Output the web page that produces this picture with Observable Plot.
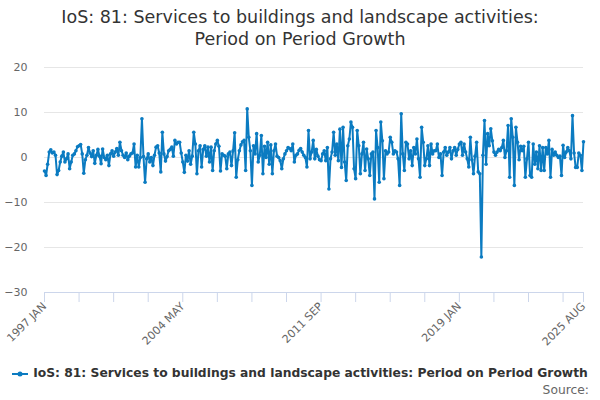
<!DOCTYPE html>
<html>
<head>
<meta charset="utf-8">
<script src="https://cdn.jsdelivr.net/npm/d3@7"></script>
<script src="https://cdn.jsdelivr.net/npm/@observablehq/plot@0.6"></script>
<style>
  html, body { margin: 0; padding: 0; background: #ffffff; }
  body { width: 600px; height: 400px; overflow: hidden; font-family: "DejaVu Sans", sans-serif; }
  #title { box-sizing: border-box; height: 50px; padding-top: 6px; text-align: center; font-size: 17.5px; line-height: 22px; color: #333333; }
  #chart { height: 310px; }
  #legend { position: absolute; top: 366px; left: 0; width: 600px; text-align: center; font-size: 12.3px; font-weight: bold; color: #333333; white-space: nowrap; }
  #legend svg { vertical-align: middle; margin-right: 5px; }
  #source { position: absolute; top: 383px; right: 11px; font-size: 12.3px; color: #666666; }
</style>
</head>
<body>
<div id="title"></div>
<div id="chart"></div>
<div id="legend"></div>
<div id="source"></div>
<script>
const titleLines = ["IoS: 81: Services to buildings and landscape activities:", "Period on Period Growth"];
const seriesName = "IoS: 81: Services to buildings and landscape activities: Period on Period Growth";
const sourceText = "Source:";
const seriesColor = "#0b7bc1";

// Monthly period-on-period growth, 1997 JAN .. 2025 AUG (344 months)
const values = [
  -3.0, -4.0, -1.5, 1.2, 1.7, 1.0, 1.2, 0.5, -3.8, -2.9, -1.0, 0.3,
  1.2, -1.0, -0.3, 0.8, -2.5, -1.0, 0.5, 0.8, 1.5, 2.4, 2.6, 2.9,
  0.8, -3.5, -0.5, 0.5, 2.2, 1.0, 0.2, 1.5, -1.3, 0.5, 1.8, 0.3,
  -1.4, 1.9, 0.0, -0.5, 0.5, -1.8, 0.8, 1.5, 0.3, 1.2, 2.0, 0.5,
  3.4, 1.5, 0.5, 0.0, 1.0, -0.5, 0.3, 0.8, 1.0, 3.0, -2.1, 0.5,
  -2.1, 0.0, 8.6, 0.2, -5.5, -0.3, 0.8, -1.0, 0.0, -1.8, 0.5, 2.3,
  2.6, 1.0, -3.2, 5.6, 0.8, -0.8, 0.2, 1.5, 1.8, 2.3, 0.3, 3.8,
  3.0, 3.4, 3.4, 1.0, -1.0, -3.3, 0.5, -0.8, 1.5, -1.5, 0.3, 5.6,
  3.0, -3.6, 1.5, 2.6, -2.1, 1.8, 2.6, 0.3, 2.3, -1.0, 2.3, -2.9,
  1.5, 3.0, 3.8, 2.5, -3.0, 0.8, 0.5, 0.3, -2.5, 0.8, 1.2, -1.8,
  1.5, 5.5, -4.4, -0.5, 1.5, 2.8, 3.5, 3.8, -2.9, 10.8, 4.5, 1.5,
  -6.2, 2.6, 0.8, 5.3, -1.0, 0.5, 4.9, -3.6, 2.5, 0.0, 3.4, -1.5,
  2.8, -3.6, 1.5, 3.0, 0.3, 0.0, -0.7, -2.5, -0.3, 0.8, 1.5, 2.2,
  2.0, 1.5, 3.0, -1.0, 0.5, 0.8, 1.6, 2.0, 1.2, 0.5, 0.0, -2.1,
  6.0, -0.3, 1.2, 3.8, -0.3, 1.8, 0.3, -0.5, -0.7, 0.8, 1.5, -0.7,
  2.2, -7.0, -0.3, 1.2, 5.6, 0.5, 3.0, -0.7, 6.3, -2.2, 6.7, -1.0,
  -5.1, 2.6, 4.1, 7.9, 6.7, -2.5, -4.7, 6.0, 2.6, -3.6, 0.8, 3.4,
  -2.9, 1.9, -0.3, -4.0, 0.8, 1.2, -9.2, 6.0, 2.2, -5.5, 7.9, 3.7,
  -4.7, 1.5, 0.8, 1.2, 4.5, 3.4, 0.8, 1.5, 1.2, -0.3, -6.2, 9.7,
  0.8, -2.9, 3.4, 3.0, -0.3, 1.5, -1.8, 2.2, 0.8, 4.1, -0.3, -4.4,
  6.7, 3.4, -1.8, -0.3, 2.6, -1.8, 3.0, 0.8, 1.5, 1.5, 3.0, 0.0,
  0.8, -4.0, 1.2, 2.2, 0.5, 1.2, 2.2, -0.3, 1.5, 2.2, 0.5, 1.8,
  3.0, 3.4, 0.5, 3.0, 1.2, -0.3, -2.1, 4.5, -0.5, -3.6, 0.3, 3.4,
  -3.2, -3.6, -22.1, 0.5, 8.2, -1.5, 5.3, 2.6, 6.4, 3.7, 1.2, 0.5,
  1.2, 1.8, 1.5, 2.2, 3.8, 0.0, 1.5, 7.1, -4.4, 8.6, 4.5, -6.2,
  6.7, 3.4, -0.5, 2.5, 1.5, 2.5, -4.4, -0.3, 3.4, -4.0, -4.4, 3.0,
  -1.5, 1.2, -2.5, 2.6, -2.9, 2.2, -2.9, 2.2, 0.8, 3.8, -4.4, 1.8,
  0.5, 1.2, 0.5, 0.0, 0.3, -4.0, 2.7, 0.0, 1.2, 2.2, 1.5, -0.3,
  9.3, 1.0, -2.2, -2.2, 1.0, 0.5, -2.9, 3.5
];

const tickMonths = [0, 22, 44, 66, 88, 110, 132, 154, 176, 198, 220, 242, 264, 286, 308, 330, 343];
const labelMonths = [0, 88, 176, 264, 343];
const labelTexts = ["1997 JAN", "2004 MAY", "2011 SEP", "2019 JAN", "2025 AUG"];
const yTicks = [-30, -20, -10, 0, 10, 20];

document.getElementById("title").innerHTML = titleLines.map(t => `<div>${t}</div>`).join("");

const data = values.map((v, i) => ({i, v}));

const chart = Plot.plot({
  width: 600,
  height: 310,
  marginTop: 17,
  marginBottom: 68,
  marginLeft: 44,
  marginRight: 17,
  style: {fontFamily: "DejaVu Sans, sans-serif", fontSize: "11px", color: "#666666", background: "#ffffff", overflow: "visible"},
  x: {type: "linear", domain: [0, values.length - 1]},
  y: {domain: [-30, 20]},
  marks: [
    Plot.gridY(yTicks.filter(t => t > -30), {stroke: "#e6e6e6", strokeOpacity: 1}),
    Plot.ruleY([-30], {stroke: "#ccd6eb"}),
    Plot.axisY({ticks: yTicks, tickSize: 0, tickPadding: 17, label: null, fill: "#666666"}),
    Plot.axisX({ticks: tickMonths, tickSize: 10, stroke: "#ccd6eb", strokeOpacity: 1, tickFormat: () => "", label: null}),
    Plot.axisX({ticks: labelMonths, tickSize: 0, tickPadding: 12, tickRotate: -45,
      tickFormat: m => labelTexts[labelMonths.indexOf(m)], label: null, fill: "#666666"}),
    Plot.line(data, {x: "i", y: "v", stroke: seriesColor, strokeWidth: 2}),
    Plot.dot(data, {x: "i", y: "v", r: 1.8, fill: seriesColor, stroke: "none"})
  ]
});
document.getElementById("chart").appendChild(chart);

document.getElementById("legend").innerHTML =
  `<svg width="16" height="10"><line x1="0" y1="5" x2="16" y2="5" stroke="${seriesColor}" stroke-width="2"/><circle cx="8" cy="5" r="2.5" fill="${seriesColor}"/></svg>${seriesName}`;
document.getElementById("source").textContent = sourceText;
</script>
</body>
</html>
